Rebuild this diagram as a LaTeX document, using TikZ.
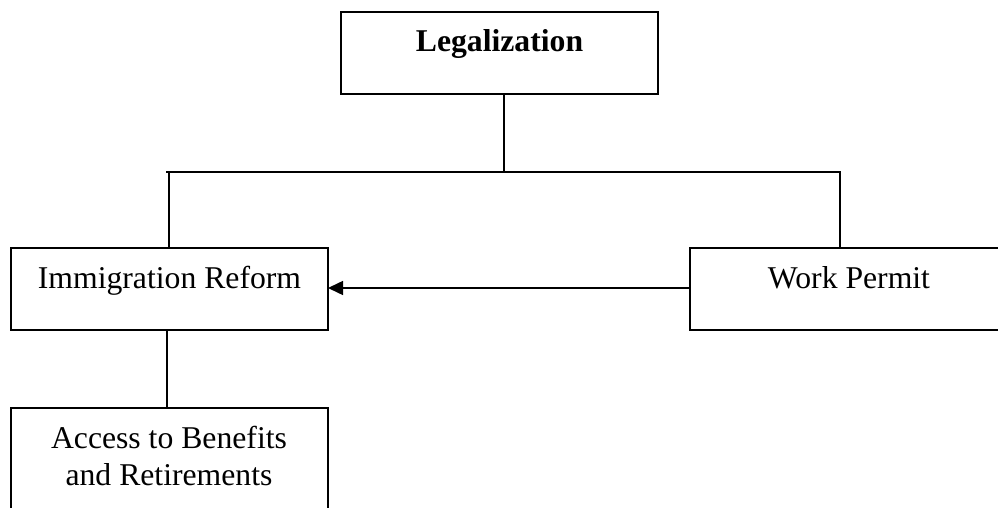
\documentclass[tikz,border=0pt]{standalone}
\usepackage{fontspec}
\setmainfont{Liberation Serif}
\usetikzlibrary{arrows.meta}
\begin{document}
\begin{tikzpicture}[x=1pt,y=-1pt,
  box/.style={draw=black, line width=1.5pt, inner sep=0pt, outer sep=0pt,
    font=\fontsize{31.7}{37}\selectfont, text height=40pt, text depth=42pt},
  txt/.style={inner sep=0pt, outer sep=0pt, font=\fontsize{31.7}{37}\selectfont, align=center},
  conn/.style={draw=black, line width=1.5pt},
  arr/.style={conn, -{Triangle[length=15pt,width=14pt]}}]
\useasboundingbox (0,0) rectangle (998,508);
\clip (0,0) rectangle (998,508);
% boxes
\node[box, minimum width=317pt, anchor=north west] (legal) at (341,12) {\textbf{Legalization}};
\node[box, minimum width=317pt, anchor=north west] (immig) at (11,248) {Immigration Reform};
\node[box, minimum width=318pt, anchor=north west] (work) at (690,248) {Work Permit};
\node[box, minimum width=317pt, text height=0pt, text depth=0pt, minimum height=130pt, anchor=north west] (access) at (11,408) {};
\node[txt, anchor=base] (accesstext) at (169,485) {Access to Benefits\\and Retirements};
% connectors
\coordinate (jn) at (504,172);
\coordinate (hl) at (166,172);
\coordinate (lc) at (169,172);
\coordinate (rc) at (840,172);
\coordinate (dl) at (167,0);
\draw[conn] (legal.south -| jn) -- (jn);
\draw[conn] (hl) -- (rc) -- (rc |- work.north);
\draw[conn] (lc) -- (lc |- immig.north);
\draw[conn] (immig.south -| dl) -- (access.north -| dl);
\draw[arr] ([yshift=1pt]work.west) -- ([yshift=1pt]immig.east);
\end{tikzpicture}
\end{document}
